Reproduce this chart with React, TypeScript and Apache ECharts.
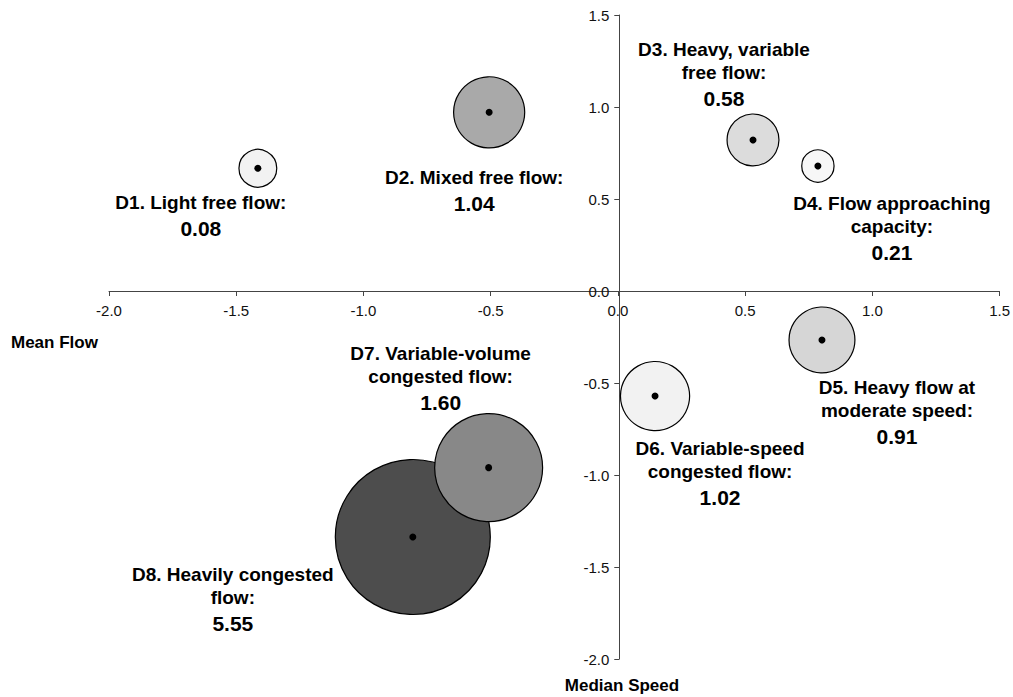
import React, { useEffect, useRef } from "react";
import * as echarts from "echarts";

// ---- data ----
const regimeIds = ["D1", "D2", "D3", "D4", "D5", "D6", "D7", "D8"];
const regimeNames = [
  ["Light free flow:"],
  ["Mixed free flow:"],
  ["Heavy, variable", "free flow:"],
  ["Flow approaching", "capacity:"],
  ["Heavy flow at", "moderate speed:"],
  ["Variable-speed", "congested flow:"],
  ["Variable-volume", "congested flow:"],
  ["Heavily congested", "flow:"],
];
const meanFlow = [-1.415, -0.506, 0.531, 0.786, 0.802, 0.146, -0.508, -0.806];
const medianSpeed = [0.667, 0.971, 0.821, 0.679, -0.266, -0.571, -0.96, -1.337];
const regimeValues = [0.08, 1.04, 0.58, 0.21, 0.91, 1.02, 1.6, 5.55];
const bubbleShare = [2.6, 9.2, 4.9, 1.9, 7.9, 8.7, 21.2, 43.7];
const axisTicks = [-2.0, -1.5, -1.0, -0.5, 0.0, 0.5, 1.0, 1.5];

// ---- styles / layout ----
const fills = ["#f2f2f2", "#a9a9a9", "#dcdcdc", "#f7f7f7", "#d6d6d6", "#f2f2f2", "#888888", "#4d4d4d"];
const labelOffsets = [
  [-57, 49],
  [-15, 80],
  [-29, -64],
  [74, 63],
  [75, 74],
  [65, 78],
  [-48, -88],
  [-180, 63],
];
const FONT = "'Liberation Sans', Arial, Helvetica, sans-serif";
const MAX_DIAMETER = 155;
const W = 1013;
const H = 697;
const GRID = { left: 109, right: 11, top: 15, bottom: 38 };

export default function App() {
  const ref = useRef<HTMLDivElement>(null);

  useEffect(() => {
    if (!ref.current) return;
    const chart = echarts.init(ref.current, null, { renderer: "svg" });
    const maxShare = Math.max(...bubbleShare);
    const lo = axisTicks[0];
    const hi = axisTicks[axisTicks.length - 1];
    const gridW = W - GRID.left - GRID.right;
    const gridH = H - GRID.top - GRID.bottom;
    // move the axes onto the zero lines (crossing axes)
    const xOffset = -((0 - lo) / (hi - lo)) * gridH;
    const yOffset = -((0 - lo) / (hi - lo)) * gridW;

    const order = regimeIds.map((_, i) => i).sort((a, b) => bubbleShare[b] - bubbleShare[a]);

    const bubbleData = order.map((i) => ({
      value: [meanFlow[i], medianSpeed[i], bubbleShare[i]],
      symbolSize: MAX_DIAMETER * Math.sqrt(bubbleShare[i] / maxShare),
      itemStyle: { color: fills[i], borderColor: "#000", borderWidth: 1.2, opacity: 1 },
    }));

    const dotData = regimeIds.map((_, i) => [meanFlow[i], medianSpeed[i]]);

    const labelData = regimeIds.map((id, i) => {
      const lines = regimeNames[i].map((t, k) => `{t|${k === 0 ? id + ". " + t : t}}`);
      return {
        value: [meanFlow[i], medianSpeed[i]],
        label: {
          show: true,
          position: "inside",
          offset: labelOffsets[i],
          align: "center",
          verticalAlign: "middle",
          formatter: lines.join("\n") + `\n{v|${regimeValues[i].toFixed(2)}}`,
          rich: {
            t: { fontFamily: FONT, fontSize: 19, fontWeight: "bold", color: "#000", lineHeight: 23, align: "center" },
            v: { fontFamily: FONT, fontSize: 21, fontWeight: "bold", color: "#000", lineHeight: 29, align: "center" },
          },
        },
      };
    });

    const axisCommon = {
      type: "value" as const,
      min: lo,
      max: hi,
      interval: 0.5,
      splitLine: { show: false },
      axisLine: { show: true, onZero: false, lineStyle: { color: "#444", width: 1 } },
      axisTick: { show: true, length: 5, lineStyle: { color: "#444" } },
      axisLabel: {
        fontFamily: FONT,
        fontSize: 15,
        color: "#111",
        formatter: (v: number) => v.toFixed(1),
      },
    };

    chart.setOption({
      animation: false,
      backgroundColor: "#fff",
      grid: { ...GRID, containLabel: false },
      xAxis: {
        ...axisCommon,
        position: "bottom",
        offset: xOffset,
        axisLabel: { ...axisCommon.axisLabel, margin: 12 },
      },
      yAxis: {
        ...axisCommon,
        position: "left",
        offset: yOffset,
        axisLabel: { ...axisCommon.axisLabel, margin: 10 },
      },
      series: [
        {
          type: "scatter",
          data: bubbleData,
          z: 2,
          silent: true,
        },
        {
          type: "scatter",
          data: dotData,
          symbolSize: 7,
          itemStyle: { color: "#000", opacity: 1 },
          z: 3,
          silent: true,
        },
        {
          type: "scatter",
          data: labelData,
          symbolSize: 1,
          itemStyle: { color: "transparent", opacity: 1 },
          z: 4,
          silent: true,
        },
      ],
      graphic: [
        {
          type: "text",
          x: 11,
          y: 342,
          style: {
            text: "Mean Flow",
            font: `bold 17px ${FONT}`,
            fill: "#000",
            textAlign: "left",
            textVerticalAlign: "middle",
            align: "left",
            verticalAlign: "middle",
          },
        },
        {
          type: "text",
          x: 622,
          y: 685,
          style: {
            text: "Median Speed",
            font: `bold 17px ${FONT}`,
            fill: "#000",
            textAlign: "center",
            textVerticalAlign: "middle",
            align: "center",
            verticalAlign: "middle",
          },
        },
      ],
    });

    return () => chart.dispose();
  }, []);

  return (
    <div
      ref={ref}
      style={{ position: "absolute", left: 0, top: 0, width: W, height: H, background: "#fff" }}
    />
  );
}
